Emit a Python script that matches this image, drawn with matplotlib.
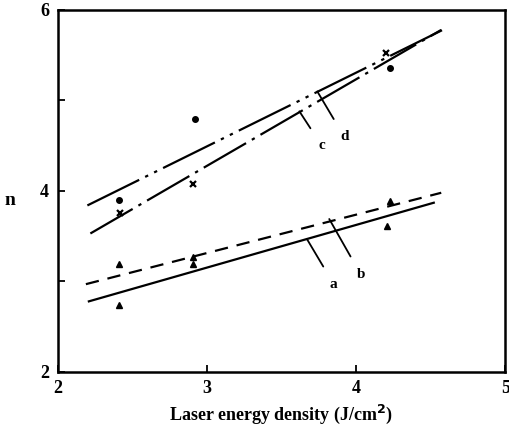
import matplotlib.pyplot as plt

plt.rcParams['font.family'] = ['Liberation Serif', 'DejaVu Serif']

# fitted lines (start and end points)
line_x = {'a': [2.21, 4.52], 'b': [2.19, 4.57], 'c': [2.22, 4.57], 'd': [2.20, 4.58]}
line_y = {'a': [2.78, 3.87], 'b': [2.97, 3.98], 'c': [3.53, 5.78], 'd': [3.84, 5.78]}

# measured points
circ_x = [2.41, 2.92, 4.23]
circ_y = [3.90, 4.80, 5.36]
cross_x = [2.42, 2.91, 4.20]
cross_y = [3.76, 4.08, 5.53]
tri_b_x = [2.41, 2.91, 4.23]
tri_b_y = [3.19, 3.27, 3.89]
tri_a_x = [2.41, 2.91, 4.21]
tri_a_y = [2.74, 3.19, 3.61]

# curve labels: text position and where the leader touches the line
lab_names = ['a', 'b', 'c', 'd']
lab_xy = [(3.85, 2.97), (4.03, 3.08), (3.77, 4.50), (3.92, 4.60)]
lab_pt = [(3.67, 3.47), (3.82, 3.69), (3.62, 4.88), (3.74, 5.10)]

fig = plt.figure(figsize=(5.09, 4.34), dpi=100)
ax = fig.add_axes([0.113, 0.143, 0.880, 0.834])

ax.plot(line_x['a'], line_y['a'], color='black', lw=1.6)
ax.plot(line_x['b'], line_y['b'], color='black', lw=1.6, dashes=(6, 4))
ax.plot(line_x['c'], line_y['c'], color='black', lw=1.6, dashes=(22, 3, 1.5, 3))
ax.plot(line_x['d'], line_y['d'], color='black', lw=1.6, dashes=(26, 3, 1.5, 3, 1.5, 3))

ax.plot(circ_x, circ_y, 'o', color='black', ms=4)
ax.plot(cross_x, cross_y, 'x', color='black', ms=4, mew=1.6)
ax.plot(tri_b_x, tri_b_y, '^', color='black', ms=5)
ax.plot(tri_a_x, tri_a_y, '^', color='black', ms=5)

for name, txt, pt in zip(lab_names, lab_xy, lab_pt):
    ax.annotate(name, xy=pt, xytext=txt, fontsize=11, fontweight='bold',
                ha='center', va='center',
                arrowprops=dict(arrowstyle='-', color='black', lw=1.3,
                                shrinkA=7, shrinkB=0))

ax.set_xlim(2, 5)
ax.set_ylim(2, 6)
ax.set_xticks([2, 3, 4, 5])
ax.set_yticks([2, 3, 4, 5, 6])
ax.set_yticklabels(['2', '', '4', '', '6'])
ax.tick_params(direction='in', length=5, width=1.3, labelsize=13, pad=6)
for lab in ax.get_xticklabels() + ax.get_yticklabels():
    lab.set_fontweight('bold')
for s in ax.spines.values():
    s.set_linewidth(1.8)

ax.set_xlabel('Laser energy density (J/cm$^\\mathbf{2}$)', fontsize=13,
              fontweight='bold', labelpad=4)
ax.set_ylabel('n', fontsize=14, fontweight='bold', rotation=0, labelpad=22, y=0.45)

fig.savefig('out.png', dpi=100)
